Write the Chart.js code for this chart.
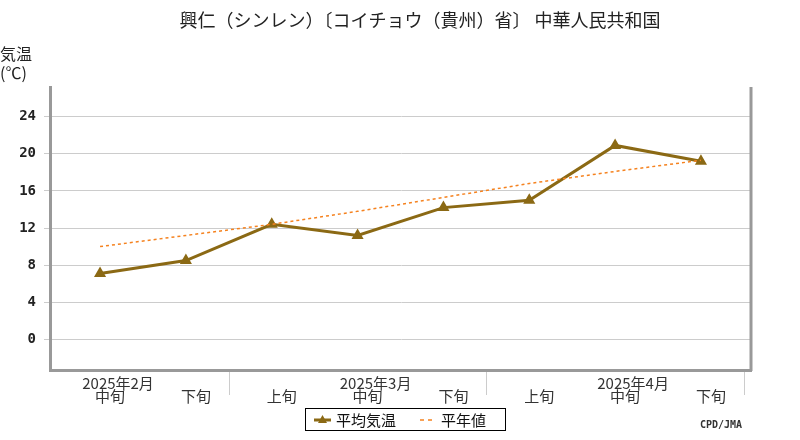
<!DOCTYPE html>
<html><head><meta charset="utf-8">
<script src="https://cdn.jsdelivr.net/npm/chart.js@4"></script>
<style>body{margin:0;background:#fff}</style>
</head><body>
<canvas id="c" width="800" height="440"></canvas>
<script>
const months = ["2025年2月", "", "", "2025年3月", "", "", "2025年4月", ""];
const periods = ["中旬", "下旬", "上旬", "中旬", "下旬", "上旬", "中旬", "下旬"];
const meanTemp = [7.1, 8.5, 12.4, 11.2, 14.2, 15.0, 20.9, 19.2];
const normalTemp = [10.0, 11.2, 12.4, 13.8, 15.3, 16.8, 18.1, 19.3];
const yTicks = [0, 4, 8, 12, 16, 20, 24];
const monthEdges = [1.5, 4.5, 7.5];

const font = '"Noto Sans CJK JP", sans-serif';

const extras = {
  id: "extras",
  afterDraw(chart) {
    const c = chart.ctx, x = chart.scales.x, y = chart.scales.y, a = chart.chartArea;
    c.save();
    // right border
    c.strokeStyle = "#999"; c.lineWidth = 3;
    c.beginPath(); c.moveTo(a.right, a.top); c.lineTo(a.right, a.bottom + 1); c.stroke();
    // title
    c.fillStyle = "#222"; c.textAlign = "center"; c.textBaseline = "middle";
    c.font = "18px " + font;
    c.fillText("興仁（シンレン）〔コイチョウ（貴州）省〕 中華人民共和国", 420, 20);
    // y title
    c.font = "16px " + font; c.textAlign = "left";
    c.fillText("気温", 0, 54);
    c.fillText("(℃)", 0, 73);
    // y tick labels
    c.font = "bold 14px 'DejaVu Sans Mono', monospace"; c.textAlign = "right";
    yTicks.forEach(v => c.fillText(String(v), 36, y.getPixelForValue(v)));
    // month separators
    c.strokeStyle = "#ccc"; c.lineWidth = 1;
    monthEdges.forEach(v => {
      const px = Math.round(x.getPixelForValue(v)) + 0.5;
      c.beginPath(); c.moveTo(px, a.bottom + 2); c.lineTo(px, a.bottom + 25); c.stroke();
    });
    // x labels
    c.textAlign = "center"; c.font = "15px " + font; c.fillStyle = "#333";
    periods.forEach((p, i) => {
      const px = x.getPixelForValue(i);
      c.fillText(p, px + 10, a.bottom + 26);
      if (months[i]) c.fillText(months[i], px + 18, a.bottom + 13);
    });
    // legend
    c.strokeStyle = "#000"; c.lineWidth = 1;
    c.strokeRect(305.5, 408.5, 200, 22);
    c.strokeStyle = "#8B6914"; c.lineWidth = 3;
    c.beginPath(); c.moveTo(314, 420); c.lineTo(331, 420); c.stroke();
    c.fillStyle = "#8B6914";
    c.beginPath(); c.moveTo(322.5, 415); c.lineTo(327, 423); c.lineTo(318, 423); c.fill();
    c.fillStyle = "#111"; c.textAlign = "left"; c.font = "15px " + font;
    c.fillText("平均気温", 336, 420);
    c.strokeStyle = "#f5821f"; c.lineWidth = 1.5; c.setLineDash([4, 4]);
    c.beginPath(); c.moveTo(420, 420); c.lineTo(436, 420); c.stroke();
    c.setLineDash([]);
    c.fillText("平年値", 441, 420);
    // credit
    c.font = "bold 10px 'DejaVu Sans Mono', monospace"; c.fillStyle = "#333";
    c.fillText("CPD/JMA", 700, 425);
    c.restore();
  }
};

new Chart(document.getElementById("c"), {
  type: "line",
  data: {
    datasets: [{
      label: "平年値",
      data: normalTemp.map((v, i) => ({x: i, y: v})),
      borderColor: "#f5821f",
      borderWidth: 1.5,
      borderDash: [3, 3],
      pointRadius: 0,
      fill: false
    }, {
      label: "平均気温",
      data: meanTemp.map((v, i) => ({x: i, y: v})),
      borderColor: "#8B6914",
      backgroundColor: "#8B6914",
      borderWidth: 3,
      pointStyle: "triangle",
      pointRadius: 4,
      fill: false
    }]
  },
  options: {
    responsive: false,
    animation: false,
    layout: { padding: { left: 44, right: 49, top: 87, bottom: 62 } },
    plugins: { legend: { display: false }, tooltip: { enabled: false } },
    scales: {
      x: {
        type: "linear", min: -0.583, max: 7.583,
        grid: { display: false },
        ticks: { display: false },
        border: { color: "#999", width: 3 }
      },
      y: {
        min: -3.3, max: 27.2,
        afterBuildTicks: s => { s.ticks = yTicks.map(v => ({value: v})); },
        grid: { color: "#ccc", tickLength: 6 },
        ticks: { display: false },
        border: { color: "#999", width: 3 }
      }
    }
  },
  plugins: [extras]
});
</script>
</body></html>
